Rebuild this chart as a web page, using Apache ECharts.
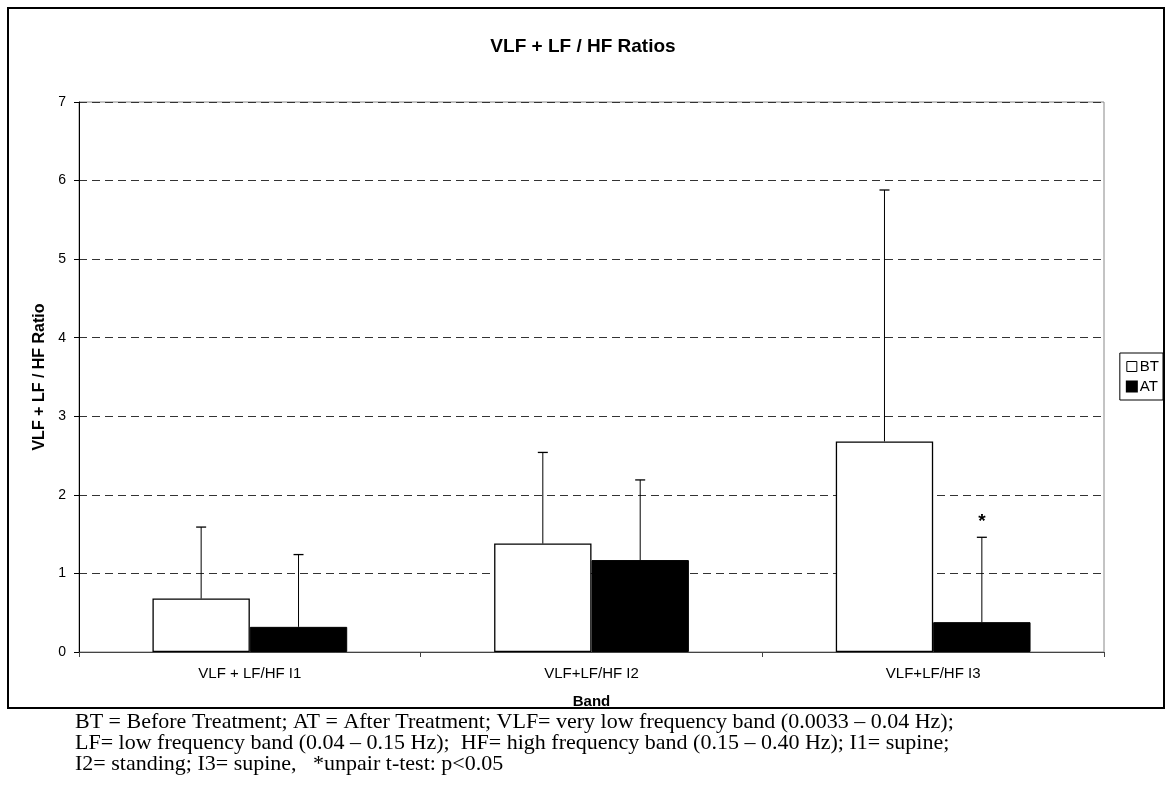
<!DOCTYPE html>
<html>
<head>
<meta charset="utf-8">
<script src="https://cdn.jsdelivr.net/npm/echarts@6/dist/echarts.min.js"></script>
<style>
html,body{margin:0;padding:0;background:#fff;}
#chart{width:1166px;height:812px;}
</style>
</head>
<body>
<div id="chart"></div>
<script>
var categories = ['VLF + LF/HF I1', 'VLF+LF/HF I2', 'VLF+LF/HF I3'];
var btValues = [0.68, 1.38, 2.68];
var atValues = [0.32, 1.17, 0.38];
var btErrors = [0.91, 1.16, 3.20];
var atErrors = [0.92, 1.02, 1.08];
var atMarks = ['', '', '*'];
var yTicks = [0, 1, 2, 3, 4, 5, 6, 7];
var footnotes = [
  'BT = Before Treatment; AT = After Treatment; VLF= very low frequency band (0.0033 \u2013 0.04 Hz);',
  'LF= low frequency band (0.04 \u2013 0.15 Hz);  HF= high frequency band (0.15 \u2013 0.40 Hz); I1= supine;',
  'I2= standing; I3= supine,   *unpair t-test: p<0.05'
];

var SANS = '"Liberation Sans", Arial, sans-serif';
var chart = echarts.init(document.getElementById('chart'));

function errorSeries(name, values, errors, offsetIdx, marks) {
  var data = values.map(function (v, i) { return [i, v, v + errors[i], marks ? marks[i] : '']; });
  return {
    type: 'custom',
    name: name + 'err',
    z: 10,
    silent: true,
    data: data,
    renderItem: function (params, api) {
      var ci = api.value(0);
      var lo = api.coord([ci, api.value(1)]);
      var hi = api.coord([ci, api.value(2)]);
      var bandW = api.size([1, 0])[0];
      var barW = bandW * 0.57 / 2;
      var x = lo[0] + (offsetIdx === 0 ? -barW / 2 : barW / 2);
      var cap = 5;
      var children = [
        { type: 'line', shape: { x1: x, y1: lo[1], x2: x, y2: hi[1] }, style: { stroke: '#000', lineWidth: 1 } },
        { type: 'line', shape: { x1: x - cap, y1: hi[1], x2: x + cap, y2: hi[1] }, style: { stroke: '#000', lineWidth: 1.3 } }
      ];
      var m = api.value(3);
      if (m) {
        children.push({ type: 'text', style: { text: m, x: x, y: hi[1] - 16, align: 'center', verticalAlign: 'middle', font: 'bold 19px ' + SANS, fill: '#000' } });
      }
      return { type: 'group', children: children };
    }
  };
}

var option = {
  backgroundColor: '#fff',
  animation: false,
  title: {
    text: 'VLF + LF / HF Ratios',
    left: 'center',
    top: 32,
    textStyle: { fontFamily: SANS, fontWeight: 'bold', fontSize: 19, color: '#000' }
  },
  legend: {
    orient: 'vertical',
    right: 3,
    top: 353,
    data: [{ name: 'BT', itemStyle: { color: '#fff', borderColor: '#000', borderWidth: 1 } }, { name: 'AT', itemStyle: { color: '#000' } }],
    icon: 'rect',
    itemWidth: 10,
    itemHeight: 10,
    itemGap: 5,
    padding: [6, 4, 6, 6],
    borderColor: '#000',
    borderWidth: 1,
    textStyle: { fontFamily: SANS, fontSize: 15, color: '#000', padding: [0, 0, 0, -2] }
  },
  grid: { left: 79, right: 62, top: 102, bottom: 160, show: true, borderColor: '#888', borderWidth: 1, backgroundColor: 'transparent' },
  xAxis: {
    type: 'category',
    data: categories,
    name: 'Band',
    nameLocation: 'middle',
    nameGap: 42,
    nameTextStyle: { fontFamily: SANS, fontWeight: 'bold', fontSize: 15, color: '#000' },
    axisLine: { lineStyle: { color: '#444', width: 1 } },
    axisTick: { show: true, length: 5, inside: false, lineStyle: { color: '#444' } },
    axisLabel: { margin: 14, fontFamily: SANS, fontSize: 15, color: '#000' }
  },
  yAxis: {
    type: 'value',
    min: 0,
    max: 7,
    interval: 1,
    name: 'VLF + LF / HF Ratio',
    nameLocation: 'middle',
    nameGap: 21,
    nameRotate: 90,
    nameTextStyle: { fontFamily: SANS, fontWeight: 'bold', fontSize: 16, color: '#000' },
    axisLine: { show: true, lineStyle: { color: '#000', width: 1 } },
    axisTick: { show: true, length: 5, lineStyle: { color: '#000' } },
    axisLabel: {
      margin: 13,
      fontFamily: SANS, fontSize: 14, color: '#000',
      formatter: function (v) { return yTicks.indexOf(v) >= 0 ? String(v) : ''; }
    },
    splitLine: { show: true, lineStyle: { color: '#333', type: [8, 5], width: 1 } }
  },
  series: [
    {
      name: 'BT', type: 'bar', data: btValues,
      barGap: '0%', barCategoryGap: '43%',
      itemStyle: { color: '#fff', borderColor: '#000', borderWidth: 1.3 }
    },
    {
      name: 'AT', type: 'bar', data: atValues,
      barGap: '0%', barCategoryGap: '43%',
      itemStyle: { color: '#000', borderColor: '#000', borderWidth: 1 }
    },
    errorSeries('BT', btValues, btErrors, 0, null),
    errorSeries('AT', atValues, atErrors, 1, atMarks)
  ],
  graphic: [
    { type: 'rect', shape: { x: 8, y: 8, width: 1156, height: 700 }, style: { fill: 'none', stroke: '#000', lineWidth: 2 }, z: -1 },
    { type: 'text', left: 75, top: 711, style: { text: footnotes.join('\n'), font: '22px "Liberation Serif", "Times New Roman", serif', fill: '#000', lineHeight: 21 } }
  ]
};
chart.setOption(option);
</script>
</body>
</html>
